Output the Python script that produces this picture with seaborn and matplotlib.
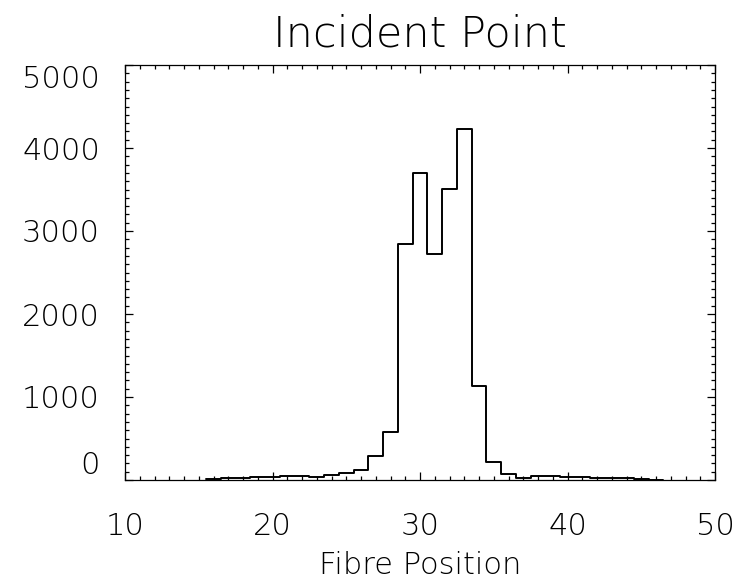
import matplotlib
matplotlib.use("Agg")
from matplotlib import pyplot as plt
from matplotlib import font_manager
from matplotlib.ticker import MultipleLocator
import numpy as np
import pandas as pd
import seaborn as sns

# fibre position (bin centres) and counts
fibre_position = list(range(16, 47))
counts = [8, 22, 30, 40, 42, 45, 52, 32, 55, 80,
          120, 293, 574, 2840, 3695, 2723, 3502, 4225, 1133, 215,
          76, 24, 48, 48, 36, 32, 24, 24, 20, 8,
          3]

x_ticks = [10, 20, 30, 40, 50]
y_ticks = [0, 1000, 2000, 3000, 4000, 5000]

sns.set_style("ticks")
plt.rcParams["font.family"] = ["DejaVu Sans"]
plt.rcParams["text.color"] = "black"
plt.rcParams["xtick.color"] = "black"
plt.rcParams["ytick.color"] = "black"

# thin font, close to the IDL vector font
light = [f.fname for f in font_manager.fontManager.ttflist
         if f.name == "DejaVu Sans" and f.weight == 200 and f.style == "normal"]
if light:
    def fp(size):
        return font_manager.FontProperties(fname=light[0], size=size)
else:
    def fp(size):
        return font_manager.FontProperties(family="DejaVu Sans", weight="light", size=size)

df = pd.DataFrame({"position": fibre_position, "count": counts})

fig = plt.figure(figsize=(7.42, 5.8), dpi=100)
ax = fig.add_axes([125 / 742, 1 - 480 / 580, 590 / 742, 415 / 580])

sns.histplot(df, x="position", weights="count", binwidth=1, binrange=(15.5, 46.5),
             element="step", fill=False, color="black", linewidth=1.4, ax=ax)

ax.set_xlim(10, 50)
ax.set_ylim(0, 5000)
ax.set_xticks(x_ticks)
ax.set_yticks(y_ticks)
ax.xaxis.set_minor_locator(MultipleLocator(1))
ax.yaxis.set_minor_locator(MultipleLocator(100))
ax.tick_params(which="both", direction="in", top=True, right=True, color="black", width=0.9)
ax.tick_params(which="major", length=6)
ax.tick_params(which="minor", length=3)
ax.tick_params(axis="x", which="major", pad=23)
ax.tick_params(axis="y", which="major", pad=18)
for s in ax.spines.values():
    s.set_color("black")
    s.set_linewidth(0.9)

for lab in ax.get_xticklabels() + ax.get_yticklabels():
    lab.set_fontproperties(fp(22))
    lab.set_color("black")
ylabels = ax.get_yticklabels()
ylabels[0].set_va("bottom")
ylabels[-1].set_va("top")

ax.set_xlabel("Fibre Position", fontproperties=fp(22), labelpad=7, color="black")
ax.set_ylabel("")
ax.set_title("Incident Point", fontproperties=fp(31), pad=13, color="black")

fig.savefig("out.png", dpi=100)
